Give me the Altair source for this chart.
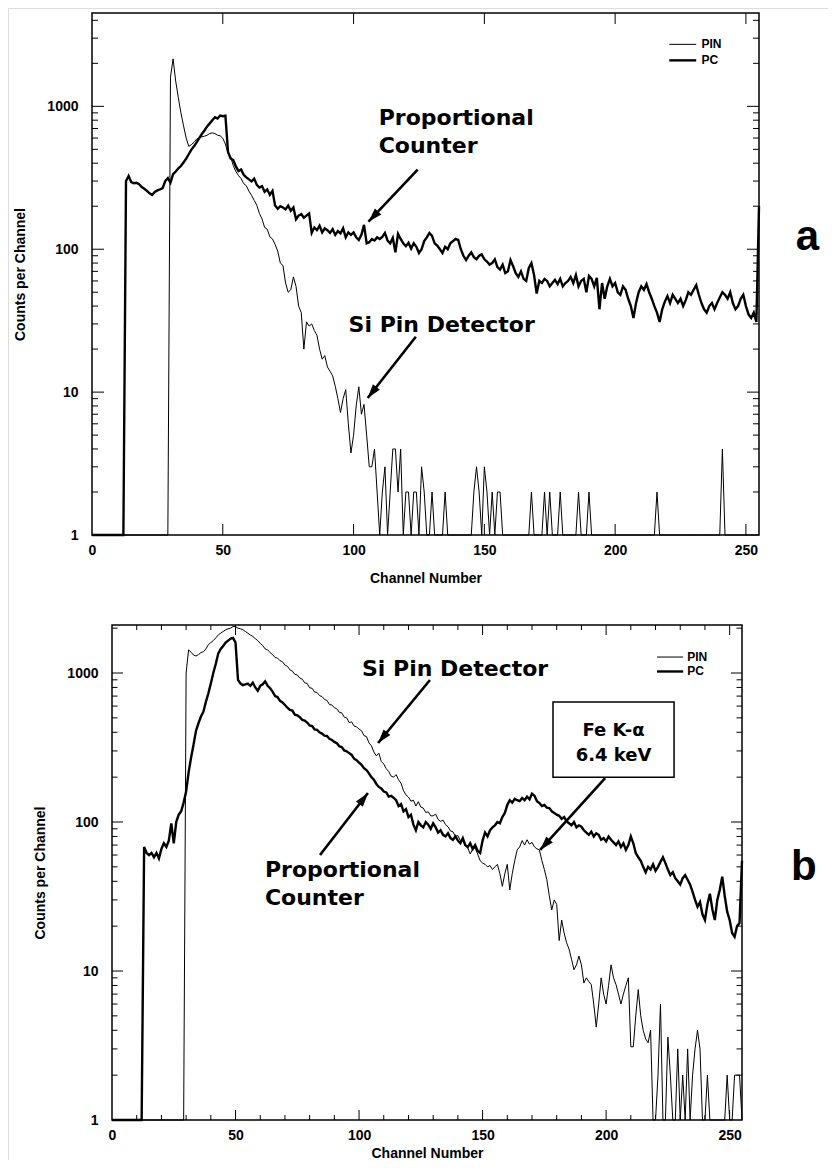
import math
import altair as alt
import pandas as pd

# ---------------- data ----------------
CHANNELS = list(range(256))

TOP_PC = [
    1, 1, 1, 1, 1, 1, 1, 1, 1, 1,
    1, 1, 1, 300, 325, 295, 290, 292, 285, 272,
    265, 256, 246, 240, 252, 258, 262, 268, 300, 315,
    292, 335, 350, 368, 382, 405, 430, 462, 498, 525,
    560, 600, 640, 678, 722, 760, 800, 840, 822, 862,
    852, 860, 480, 432, 420, 380, 352, 362, 332, 318,
    308, 298, 312, 282, 270, 276, 252, 262, 240, 256,
    202, 192, 200, 196, 190, 202, 186, 196, 162, 172,
    176, 166, 172, 178, 130, 142, 136, 146, 131, 140,
    136, 130, 138, 126, 134, 129, 140, 121, 131, 126,
    131, 121, 116, 126, 148, 110, 112, 118, 115, 121,
    118, 122, 130, 115, 110, 120, 95, 128, 118, 110,
    105, 111, 101, 110, 104, 94, 100, 114, 121, 130,
    124, 110, 106, 100, 94, 104, 100, 110, 114, 118,
    116, 100, 90, 84, 90, 95, 88, 85, 90, 92,
    85, 82, 78, 80, 85, 75, 72, 78, 68, 70,
    84, 76, 68, 64, 70, 62, 60, 74, 80, 66,
    49, 60, 58, 62, 60, 55, 58, 61, 57, 62,
    55, 58, 60, 64, 58, 66, 55, 60, 62, 50,
    65, 62, 55, 63, 38, 58, 45, 55, 62, 55,
    58, 50, 48, 55, 52, 45, 40, 33, 42, 50,
    55, 52, 57, 50, 45, 40, 36, 31, 38, 43,
    47, 42, 48, 45, 42, 45, 40, 44, 50, 48,
    52, 56, 48, 42, 38, 36, 40, 42, 38, 42,
    46, 50, 48, 45, 50, 42, 38, 40, 45, 48,
    40, 35, 33, 36, 31, 200,
]

TOP_PIN = [
    1, 1, 1, 1, 1, 1, 1, 1, 1, 1,
    1, 1, 1, 1, 1, 1, 1, 1, 1, 1,
    1, 1, 1, 1, 1, 1, 1, 1, 1, 1,
    1600, 2150, 1500, 1150, 900, 730, 600, 525, 540, 560,
    590, 605, 612, 618, 628, 645, 652, 645, 628, 622,
    598, 545, 468, 445, 385, 350, 328, 312, 288, 278,
    255, 238, 220, 203, 178, 163, 142, 138, 122, 118,
    108, 97, 80, 77, 58, 50, 52, 64, 55, 40,
    36, 20, 31, 29, 30, 27, 25, 20, 17, 18,
    15, 14, 13, 11, 9, 7.2, 9, 10.4, 6, 3.75,
    5, 8, 10.9, 7, 8.2, 5, 3, 3, 4, 2,
    1, 2, 3, 1, 2, 4, 4, 2, 4, 1,
    2, 2, 1, 2, 2, 1, 3, 2, 1, 1,
    2, 1, 1, 1, 1, 2, 1, 1, 1, 1,
    1, 1, 1, 1, 1, 1, 2, 3, 2, 1,
    3, 2, 1, 2, 1, 2, 2, 1, 1, 1,
    1, 1, 1, 1, 1, 1, 1, 1, 2, 1,
    1, 1, 1, 2, 1, 2, 1, 1, 1, 2,
    1, 1, 1, 1, 1, 1, 2, 1, 1, 1,
    2, 1, 1, 1, 1, 1, 1, 1, 1, 1,
    1, 1, 1, 1, 1, 1, 1, 1, 1, 1,
    1, 1, 1, 1, 1, 1, 2, 1, 1, 1,
    1, 1, 1, 1, 1, 1, 1, 1, 1, 1,
    1, 1, 1, 1, 1, 1, 1, 1, 1, 1,
    1, 4, 1, 1, 1, 1, 1, 1, 1, 1,
    1, 1, 1, 1, 1, 1,
]

BOT_PC = [
    1, 1, 1, 1, 1, 1, 1, 1, 1, 1,
    1, 1, 1, 68, 62, 60, 62, 58, 62, 57,
    66, 72, 68, 75, 98, 72, 100, 112, 118, 135,
    160, 215, 270, 330, 410, 460, 510, 550, 640, 730,
    850, 1000, 1150, 1350, 1450, 1520, 1600, 1650, 1700, 1720,
    1600, 900, 850, 830, 840, 850, 820, 860, 800, 760,
    820, 840, 880, 820, 790, 750, 700, 690, 650, 635,
    610, 585, 565, 560, 525, 520, 505, 485, 480, 465,
    445, 440, 418, 415, 400, 392, 380, 378, 362, 355,
    345, 338, 322, 318, 302, 298, 290, 282, 266, 260,
    250, 242, 230, 223, 212, 200, 192, 180, 172, 168,
    160, 158, 148, 150, 145, 140, 128, 132, 118, 122,
    108, 112, 96, 88, 100, 95, 92, 100, 96, 90,
    98, 92, 85, 88, 82, 80, 84, 78, 76, 80,
    75, 72, 78, 70, 68, 72, 66, 70, 64, 62,
    75, 85, 80, 88, 92, 95, 100, 98, 108, 115,
    130, 140, 135, 143, 140, 138, 145, 140, 148, 142,
    155, 150, 138, 134, 128, 130, 125, 124, 118, 115,
    112, 110, 105, 108, 101, 98, 95, 100, 92, 95,
    93, 88, 85, 82, 86, 80, 84, 82, 76, 78,
    74, 80, 76, 73, 70, 74, 68, 72, 65, 70,
    80, 72, 62, 58, 55, 50, 46, 50, 48, 52,
    47, 50, 54, 58, 53, 48, 44, 46, 42, 40,
    38, 42, 44, 41, 38, 34, 30, 27, 29, 24,
    22, 28, 33, 26, 22, 30, 35, 43, 32, 25,
    22, 18, 17, 20, 21, 55,
]

BOT_PIN = [
    1, 1, 1, 1, 1, 1, 1, 1, 1, 1,
    1, 1, 1, 1, 1, 1, 1, 1, 1, 1,
    1, 1, 1, 1, 1, 1, 1, 1, 1, 1,
    1000, 1430, 1380, 1320, 1300, 1330, 1370, 1390, 1450, 1550,
    1600, 1650, 1720, 1800, 1850, 1900, 1950, 1980, 2000, 2050,
    2050, 2000, 1980, 1950, 1900, 1850, 1800, 1760, 1700, 1650,
    1580, 1530, 1450, 1430, 1370, 1330, 1270, 1260, 1210, 1190,
    1130, 1110, 1050, 1030, 980, 970, 925, 910, 860, 850,
    795, 790, 745, 740, 705, 695, 665, 655, 615, 610,
    585, 575, 545, 540, 505, 500, 465, 470, 440, 435,
    420, 410, 380, 375, 340, 325, 295, 278, 290, 255,
    245, 228, 218, 203, 200, 208, 192, 182, 162, 152,
    147, 138, 140, 128, 137, 126, 124, 116, 117, 110,
    110, 113, 104, 101, 103, 96, 93, 87, 86, 80,
    81, 75, 75, 69, 67, 61, 66, 67, 61, 55,
    53, 52, 50, 51, 48, 50, 52, 45, 37, 45,
    52, 35, 45, 55, 65, 68, 75, 70, 76, 71,
    73, 68, 66, 65, 55, 48, 41, 32, 25.7, 30,
    28, 16, 22, 18, 15.5, 14, 12, 10.2, 11, 12.6,
    11, 8.3, 9, 8.5, 8.1, 6, 4.2, 6, 9, 7,
    6, 8, 11, 9, 8.1, 7, 6, 7, 8, 9,
    3.1, 3.1, 5, 7.5, 5, 4, 3.5, 3.3, 4, 1,
    1, 2, 6, 1, 1, 3.6, 2, 1, 1, 3,
    1, 2, 1, 3, 1, 2, 3, 4, 3, 1,
    1, 2, 1, 1, 1, 1, 1, 1, 1, 2,
    1, 1, 2, 2, 2, 1,
]

X_LABELS = [0, 50, 100, 150, 200, 250]
Y_LABELS = [1, 10, 100, 1000]
X_MAJOR = [50, 100, 150, 200, 250]
X_MINOR = [10, 20, 30, 40, 60, 70, 80, 90, 110, 120, 130, 140,
           160, 170, 180, 190, 210, 220, 230, 240]
Y_MAJOR = [10, 100, 1000]
Y_MINOR_TOP = [2, 3, 4, 5, 6, 7, 8, 9, 20, 30, 40, 50, 60, 70, 80, 90,
               200, 300, 400, 500, 600, 700, 800, 900, 2000, 3000, 4000]
Y_MINOR_BOT = [2, 3, 4, 5, 6, 7, 8, 9, 20, 30, 40, 50, 60, 70, 80, 90,
               200, 300, 400, 500, 600, 700, 800, 900, 2000]

# annotations (data coordinates: channel, counts)
TOP_TEXTS = pd.DataFrame({
    "x": [109.6, 109.6, 98.1],
    "y": [735, 468, 26.5],
    "t": ["Proportional", "Counter", "Si Pin Detector"],
})
TOP_ARROWS = pd.DataFrame({
    "x1": [124.5, 123.8], "y1": [361, 24.4],
    "x2": [105.7, 105.4], "y2": [156, 9.1],
})
TOP_LEGEND = pd.DataFrame({
    "x1": [220.7, 220.7], "x2": [231.0, 231.0], "y": [2716, 2098],
    "t": ["PIN", "PC"], "tx": [233.0, 233.0], "w": [1.0, 2.4],
})
TOP_LETTER = pd.DataFrame({"x": [273.5], "y": [98.8], "t": ["a"]})

BOT_TEXTS = pd.DataFrame({
    "x": [101.2, 61.9, 61.9],
    "y": [955, 42.7, 27.8],
    "t": ["Si Pin Detector", "Proportional", "Counter"],
})
BOT_BOX_TEXTS = pd.DataFrame({
    "x": [203.0, 203.0], "y": [378, 257], "t": ["Fe K-\u03b1", "6.4 keV"],
})
BOT_BOX = pd.DataFrame({"x1": [178.5], "x2": [227.5], "y1": [639], "y2": [200]})
BOT_ARROWS = pd.DataFrame({
    "x1": [128.7, 84.2, 199.6], "y1": [897, 60, 197],
    "x2": [107.7, 103.6, 173.3], "y2": [339, 156.6, 65],
})
BOT_LEGEND = pd.DataFrame({
    "x1": [220.6, 220.6], "x2": [231.2, 231.2], "y": [1280, 1024],
    "t": ["PIN", "PC"], "tx": [232.8, 232.8], "w": [1.0, 2.4],
})
BOT_LETTER = pd.DataFrame({"x": [280.0], "y": [40.8], "t": ["b"]})

NUM_FONT = "Liberation Sans Narrow, Liberation Sans, Arial, sans-serif"
TITLE_FONT = "Liberation Sans, Arial, sans-serif"
ANN_FONT = "DejaVu Sans"
ARROW_PATH = "M0,0L1.1,3.5L-1.1,3.5Z"

TOTAL_W = 820
TOTAL_H = 1152


def panel(pin, pc, xr, yr, ymax, yminor, xminor, xlen, ylen,
          texts, arrows, legend, letter, box=None, box_texts=None, xtitle_pad=13):
    x0, x1 = xr
    yb, yt = yr
    xs = alt.Scale(domain=[0, 255], range=[x0, x1], nice=False, zero=False)
    ys = alt.Scale(type="log", domain=[1, ymax], range=[yb, yt], nice=False)
    xax = alt.Axis(orient="bottom", offset=-(TOTAL_H - yb),
                   values=X_LABELS, ticks=False, domain=False, grid=False,
                   labelFont=NUM_FONT, labelFontSize=14, labelFontWeight="bold",
                   labelPadding=8, labelColor="black", labelFlush=False,
                   title="Channel Number", titleFont=TITLE_FONT, titleFontSize=14,
                   titleFontWeight="bold", titleColor="black", titlePadding=xtitle_pad,
                   minExtent=22, maxExtent=22)
    yax = alt.Axis(orient="left", offset=-x0,
                   values=Y_LABELS, format="d", ticks=False, domain=False, grid=False,
                   labelFont=NUM_FONT, labelFontSize=14, labelFontWeight="bold",
                   labelPadding=14, labelColor="black",
                   title="Counts per Channel", titleFont=TITLE_FONT, titleFontSize=14,
                   titleFontWeight="bold", titleColor="black", titlePadding=27,
                   minExtent=38, maxExtent=38)

    def X(f):
        return alt.X(f, type="quantitative", scale=xs, axis=xax)

    def Y(f):
        return alt.Y(f, type="quantitative", scale=ys, axis=yax)

    def pxy(x, y):
        return (x0 + x / 255 * (x1 - x0),
                yb - math.log10(y) / math.log10(ymax) * (yb - yt))

    df = pd.DataFrame({"ch": CHANNELS, "PIN": pin, "PC": pc})
    layers = []
    layers.append(alt.Chart(df).mark_line(color="black", strokeWidth=1.0, interpolate="linear")
                  .encode(x=X("ch"), y=Y("PIN")))
    layers.append(alt.Chart(df).mark_line(color="black", strokeWidth=2.4, interpolate="linear")
                  .encode(x=X("ch"), y=Y("PC")))

    # frame
    frame = pd.DataFrame({"a": [0], "b": [255], "c": [1], "d": [ymax]})
    layers.append(alt.Chart(frame).mark_rect(fillOpacity=0, stroke="black", strokeWidth=1.5)
                  .encode(x=X("a"), x2=alt.X2("b"), y=Y("c"), y2=alt.Y2("d")))

    # inward ticks on all four sides
    for vals, L in ((Y_MAJOR, ylen), (yminor, ylen / 2)):
        d = pd.DataFrame({"v": vals, "xl": 0, "xr": 255})
        layers.append(alt.Chart(d).mark_rule(color="black", strokeWidth=1, x2Offset=L)
                      .encode(y=Y("v"), x=X("xl"), x2=alt.X2("xl")))
        layers.append(alt.Chart(d).mark_rule(color="black", strokeWidth=1, x2Offset=-L)
                      .encode(y=Y("v"), x=X("xr"), x2=alt.X2("xr")))
    xsets = [(X_MAJOR, xlen)]
    if xminor:
        xsets.append((xminor, xlen / 2))
    for vals, L in xsets:
        d = pd.DataFrame({"v": vals, "yl": 1, "yh": ymax})
        layers.append(alt.Chart(d).mark_rule(color="black", strokeWidth=1, y2Offset=-L)
                      .encode(x=X("v"), y=Y("yl"), y2=alt.Y2("yl")))
        layers.append(alt.Chart(d).mark_rule(color="black", strokeWidth=1, y2Offset=L)
                      .encode(x=X("v"), y=Y("yh"), y2=alt.Y2("yh")))

    # legend
    for i in range(len(legend)):
        row = legend.iloc[[i]]
        layers.append(alt.Chart(row).mark_rule(color="black", strokeWidth=float(row["w"].iloc[0]))
                      .encode(x=X("x1"), x2=alt.X2("x2"), y=Y("y")))
    layers.append(alt.Chart(legend).mark_text(align="left", baseline="middle", font=NUM_FONT,
                                              fontSize=12, fontWeight="bold", color="black")
                  .encode(x=X("tx"), y=Y("y"), text="t:N"))

    # box
    if box is not None:
        layers.append(alt.Chart(box).mark_rect(fill="white", stroke="black", strokeWidth=1.5)
                      .encode(x=X("x1"), x2=alt.X2("x2"), y=Y("y1"), y2=alt.Y2("y2")))
        layers.append(alt.Chart(box_texts).mark_text(align="center", baseline="alphabetic",
                                                     font=ANN_FONT, fontSize=18,
                                                     fontWeight="bold", color="black")
                      .encode(x=X("x"), y=Y("y"), text="t:N"))

    # arrows
    arr = arrows.copy()
    angs = []
    for _, r in arr.iterrows():
        a1 = pxy(r["x1"], r["y1"])
        a2 = pxy(r["x2"], r["y2"])
        angs.append(math.degrees(math.atan2(a2[0] - a1[0], -(a2[1] - a1[1]))) % 360)
    arr["ang"] = angs
    layers.append(alt.Chart(arr).mark_rule(color="black", strokeWidth=2.6)
                  .encode(x=X("x1"), x2=alt.X2("x2"), y=Y("y1"), y2=alt.Y2("y2")))
    layers.append(alt.Chart(arr).mark_point(shape=ARROW_PATH, filled=True, size=64,
                                            color="black", opacity=1)
                  .encode(x=X("x2"), y=Y("y2"), angle=alt.Angle("ang:Q", scale=None)))

    # annotation texts
    layers.append(alt.Chart(texts).mark_text(align="left", baseline="alphabetic",
                                             font=ANN_FONT, fontSize=22, fontWeight="bold",
                                             color="black")
                  .encode(x=X("x"), y=Y("y"), text="t:N"))
    layers.append(alt.Chart(letter).mark_text(align="center", baseline="alphabetic",
                                              font=TITLE_FONT, fontSize=42, fontWeight="bold",
                                              color="black")
                  .encode(x=X("x"), y=Y("y"), text="t:N"))

    return alt.layer(*layers)


# plot areas in chart pixels (page coordinates minus the 8px page margin)
top = panel(TOP_PIN, TOP_PC, (84, 751), (527, 5), 4500, Y_MINOR_TOP, None, 11, 12,
            TOP_TEXTS, TOP_ARROWS, TOP_LEGEND, TOP_LETTER, xtitle_pad=14)
bottom = panel(BOT_PIN, BOT_PC, (104, 734), (1112, 617), 2100, Y_MINOR_BOT, X_MINOR, 10, 11,
               BOT_TEXTS, BOT_ARROWS, BOT_LEGEND, BOT_LETTER,
               box=BOT_BOX, box_texts=BOT_BOX_TEXTS, xtitle_pad=4)

chart = (
    alt.layer(top, bottom)
    .resolve_scale(x="independent", y="independent")
    .resolve_axis(x="independent", y="independent")
    .properties(width=TOTAL_W, height=TOTAL_H, padding=0,
                autosize=alt.AutoSizeParams(type="none"))
    .configure_view(stroke="transparent")
    .configure(background="white")
)

chart.save("out.html", embed_options={"renderer": "svg", "actions": False})
